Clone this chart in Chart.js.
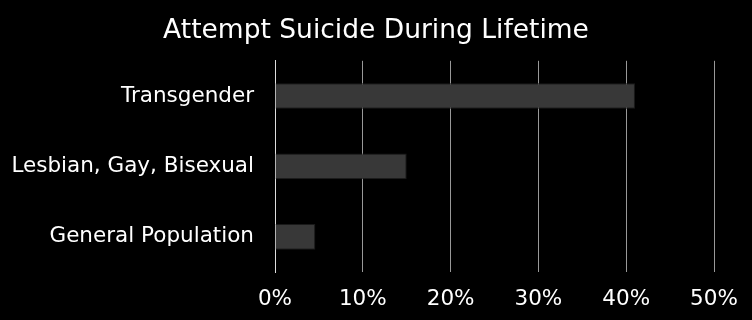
<!DOCTYPE html>
<html>
<head>
<meta charset="utf-8">
<script src="https://cdn.jsdelivr.net/npm/chart.js@4"></script>
<style>
  html, body { margin: 0; padding: 0; background: #000; }
  #wrap { width: 752px; height: 320px; }
</style>
</head>
<body>
<div id="wrap"><canvas id="chart"></canvas></div>
<script>
// data
const categories = ['Transgender', 'Lesbian, Gay, Bisexual', 'General Population'];
const percentValues = [41, 15, 4.6];
const tickMax = 50;

const ctx = document.getElementById('chart').getContext('2d');
new Chart(ctx, {
  type: 'bar',
  data: {
    labels: categories,
    datasets: [{
      data: percentValues,
      backgroundColor: '#383838',
      borderColor: '#1a1a1a',
      borderWidth: 1,
      barPercentage: 0.73,
      categoryPercentage: 0.5
    }]
  },
  options: {
    indexAxis: 'y',
    responsive: true,
    maintainAspectRatio: false,
    animation: false,
    layout: { padding: 0 },
    plugins: {
      legend: { display: false },
      tooltip: { enabled: false },
      title: {
        display: true,
        text: 'Attempt Suicide During Lifetime',
        color: '#fff',
        font: { family: 'DejaVu Sans', size: 26.5, weight: 'normal' },
        padding: { top: 15, bottom: 14 }
      }
    },
    scales: {
      x: {
        min: 0,
        max: tickMax,
        afterFit: s => { s.height = 48; s.paddingRight = 38; },
        ticks: {
          stepSize: 10,
          color: '#fff',
          font: { family: 'DejaVu Sans', size: 21.5 },
          padding: 15,
          callback: v => v + '%'
        },
        grid: { color: '#999', drawTicks: false, lineWidth: 1 },
        border: { display: false }
      },
      y: {
        afterFit: s => { s.width = 275; },
        ticks: {
          color: '#fff',
          font: { family: 'DejaVu Sans', size: 21.5 },
          padding: 21
        },
        grid: { display: false, drawTicks: false },
        border: { display: true, color: '#ddd' }
      }
    }
  }
});
</script>
</body>
</html>
